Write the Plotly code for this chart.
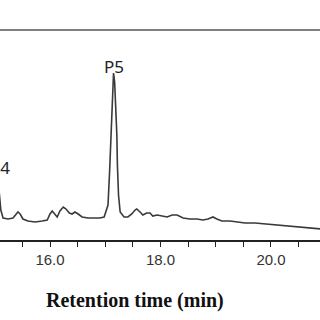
import plotly.graph_objects as go

# Retention time (min) and detector response (arbitrary units)
time_min = [14.95, 15.00, 15.04, 15.08, 15.11, 15.15, 15.24, 15.33, 15.39, 15.42,
            15.46, 15.51, 15.60, 15.73, 15.86, 15.95, 16.00, 16.04, 16.07, 16.13,
            16.18, 16.24, 16.29, 16.35, 16.40, 16.45, 16.51, 16.58, 16.69, 16.81,
            16.90, 16.98, 17.05, 17.08, 17.10, 17.12, 17.13, 17.15, 17.17, 17.19,
            17.21, 17.22, 17.24, 17.27, 17.34, 17.41, 17.48, 17.54, 17.57, 17.63,
            17.68, 17.75, 17.81, 17.86, 17.94, 18.03, 18.12, 18.21, 18.30, 18.41,
            18.53, 18.66, 18.77, 18.86, 18.95, 19.02, 19.11, 19.26, 19.40, 19.53,
            19.71, 19.89, 20.07, 20.25, 20.43, 20.61, 20.80, 20.92]
signal = [25, 50, 62, 48, 30, 22, 21, 22, 26, 28,
          26, 21, 19, 18, 19, 20, 26, 29, 27, 23,
          29, 33, 31, 27, 26, 28, 26, 23, 22, 22,
          22, 23, 35, 70, 100, 130, 155, 167, 158, 135,
          105, 75, 45, 28, 23, 23, 26, 30, 31, 28,
          25, 27, 27, 24, 25, 24, 23, 25, 25, 22,
          21, 21, 20, 21, 23, 21, 19, 19, 18, 17,
          17, 16, 15, 14, 13, 12, 11, 11]

peak_labels = ["P4", "P5"]
label_times = [15.095, 17.15]
label_heights = [73, 174]

tick_vals = [15.5, 16.0, 16.5, 17.0, 17.5, 18.0, 18.5, 19.0, 19.5, 20.0, 20.5]
tick_text = ["", "16.0", "", "", "", "18.0", "", "", "", "20.0", ""]

fig = go.Figure()
fig.add_trace(go.Scatter(x=time_min, y=signal, mode="lines",
                         line=dict(color="#3a3a3a", width=1.6),
                         hoverinfo="skip", showlegend=False))

for lab, t, h in zip(peak_labels, label_times, label_heights):
    fig.add_annotation(x=t, y=h, text=lab, showarrow=False,
                       xanchor="center", yanchor="middle",
                       font=dict(family="Noto Sans", size=17, color="#222"))

fig.add_annotation(xref="paper", yref="paper", x=135 / 320, y=-0.286,
                   text="<b>Retention time (min)</b>", showarrow=False,
                   xanchor="center", yanchor="middle",
                   font=dict(family="Liberation Serif", size=20, color="#111"))

fig.add_shape(type="line", xref="paper", yref="paper", x0=0, x1=1, y0=1, y1=1,
              line=dict(color="#808080", width=2))

fig.update_layout(
    width=320, height=320,
    margin=dict(l=0, r=0, t=30, b=80),
    paper_bgcolor="white", plot_bgcolor="white",
    xaxis=dict(range=[15.095, 20.887], tickmode="array", tickvals=tick_vals,
               ticktext=tick_text, ticks="outside", ticklen=5, tickwidth=1.2,
               tickcolor="#222", showline=True, linecolor="#222", linewidth=1.5,
               showgrid=False, zeroline=False,
               tickfont=dict(family="Liberation Sans", size=15, color="#333")),
    yaxis=dict(range=[0, 210], visible=False, showgrid=False, zeroline=False),
)

fig.write_html("out.html", config={"displayModeBar": False},
               post_script="document.body.style.margin='0';document.body.style.overflow='hidden';")
